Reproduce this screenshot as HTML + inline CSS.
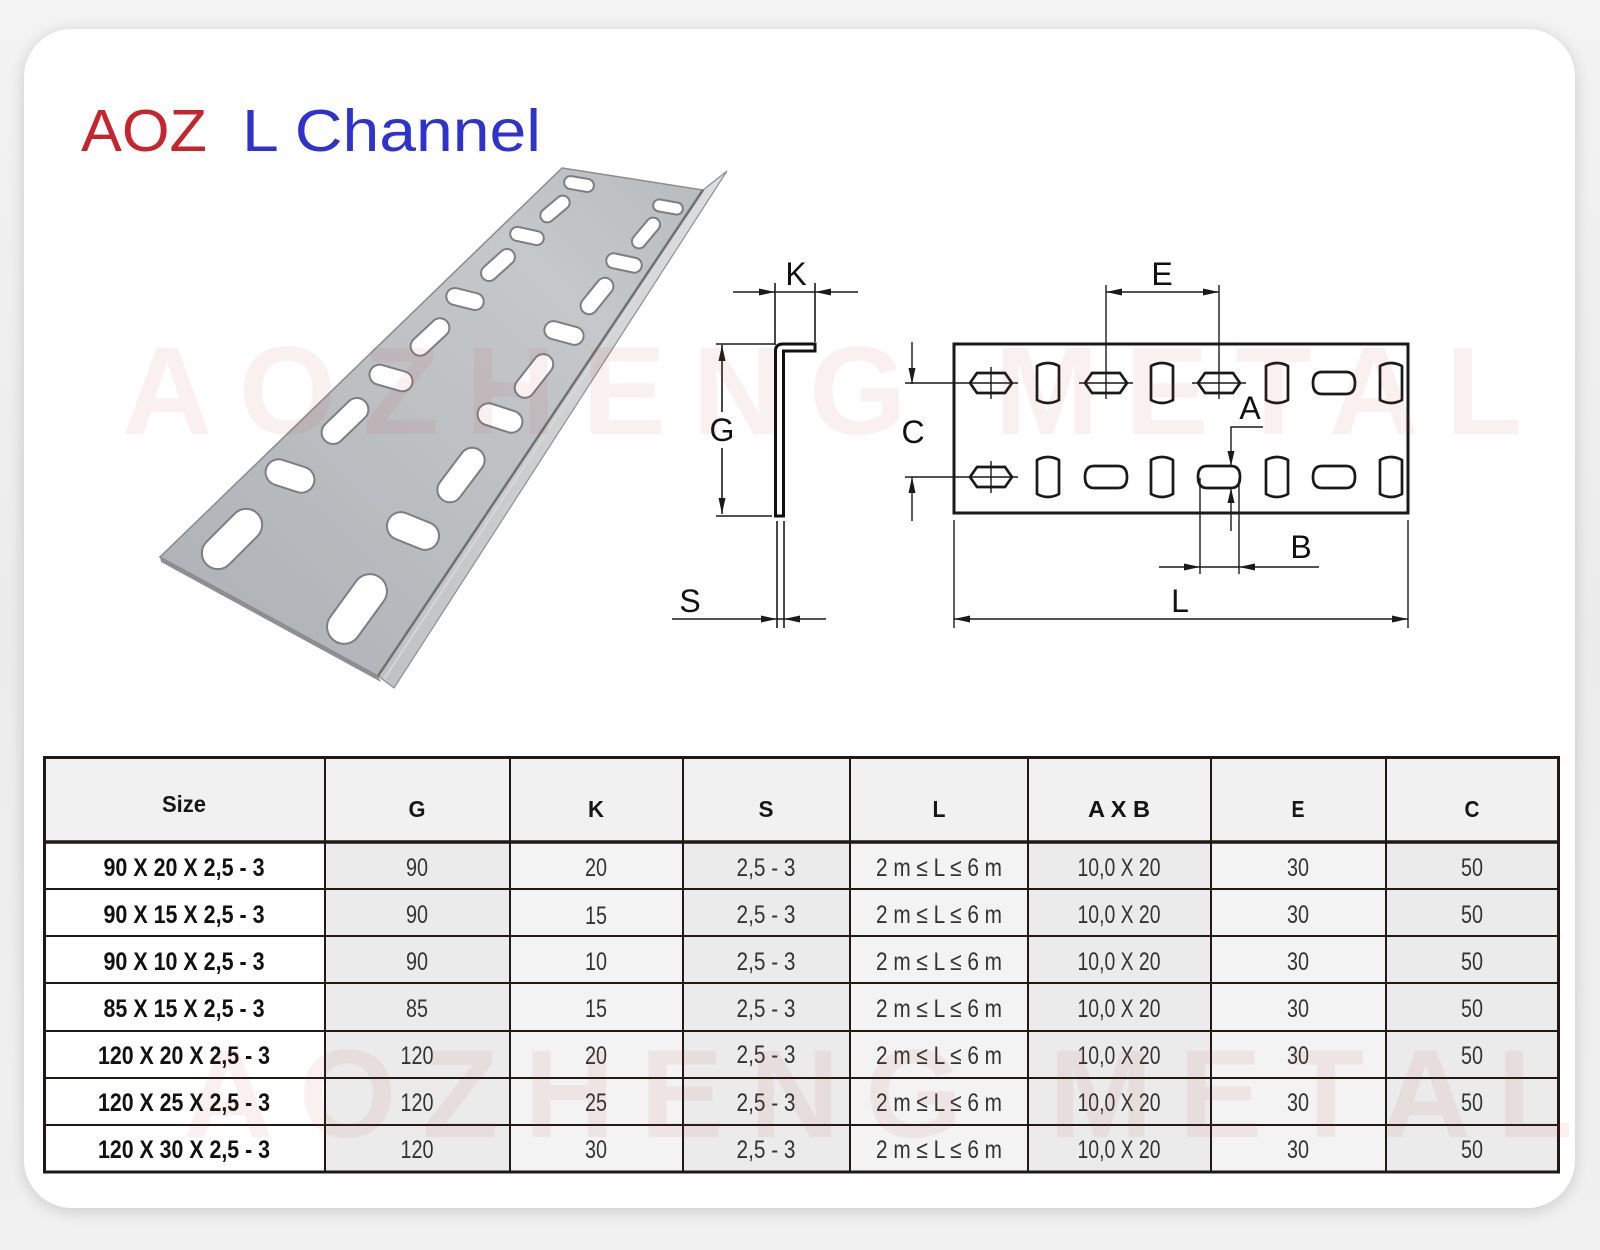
<!DOCTYPE html>
<html>
<head>
<meta charset="utf-8">
<style>
  html,body{margin:0;padding:0;}
  body{width:1600px;height:1250px;position:relative;overflow:hidden;background:#efefef;
       background:linear-gradient(180deg,#f3f3f3 0%,#ececec 50%,#f1f1f1 100%);}
  .card{position:absolute;left:24px;top:29px;width:1551px;height:1179px;border-radius:48px;background:#fff;
        box-shadow:0 3px 16px rgba(0,0,0,0.16);}
  svg{position:absolute;left:0;top:0;}
</style>
</head>
<body>
<div class="card"></div>
<svg width="1600" height="1250" viewBox="0 0 1600 1250" font-family="'Liberation Sans', Arial, sans-serif">
  <defs>
    <linearGradient id="plate" x1="0" y1="1" x2="1" y2="0">
      <stop offset="0" stop-color="#acafb3"/>
      <stop offset="0.45" stop-color="#bcbfc2"/>
      <stop offset="0.75" stop-color="#c5c8cb"/>
      <stop offset="1" stop-color="#b8bbbe"/>
    </linearGradient>
    <linearGradient id="flange" x1="0" y1="0" x2="1" y2="0">
      <stop offset="0" stop-color="#bfc1c3"/>
      <stop offset="1" stop-color="#dcdedf"/>
    </linearGradient>
  </defs>

  <!-- Title -->
  <text x="81" y="151" font-size="59" fill="#c4262e" textLength="126" lengthAdjust="spacingAndGlyphs">AOZ</text>
  <text x="242" y="151" font-size="59" fill="#2f33cc" textLength="299" lengthAdjust="spacingAndGlyphs">L Channel</text>

  <!-- Product photo -->
  <g>
    <polygon points="703,190 727,171 394,688 378,676" fill="url(#flange)" stroke="#8e9093" stroke-width="1.2"/>
    <polygon points="160,557 378,676 381,682 161,562" fill="#8d8f92"/>
    <polygon points="562,168 703,190 378,676 160,557" fill="url(#plate)" stroke="#8a8c8f" stroke-width="1.5"/>
    <line x1="703" y1="190" x2="378" y2="676" stroke="#6e7073" stroke-width="2.5"/>
    <line x1="708" y1="188" x2="384" y2="679" stroke="#d8dadb" stroke-width="1.5"/>
    <g fill="#ffffff" stroke="#7b7e82" stroke-width="2">
      <!-- left row -->
      <rect x="-15" y="-6.5" width="30" height="13" rx="6.5" transform="translate(579,184) rotate(10)"/>
      <rect x="-17" y="-7" width="34" height="14" rx="7" transform="translate(555,209) rotate(-40)"/>
      <rect x="-17" y="-7" width="34" height="14" rx="7" transform="translate(527,236) rotate(12)"/>
      <rect x="-20" y="-8" width="40" height="16" rx="8" transform="translate(498,265) rotate(-42)"/>
      <rect x="-19" y="-8.5" width="38" height="17" rx="8.5" transform="translate(465,299) rotate(14)"/>
      <rect x="-23" y="-9.5" width="46" height="19" rx="9.5" transform="translate(430,337) rotate(-43)"/>
      <rect x="-22" y="-10" width="44" height="20" rx="10" transform="translate(391,378) rotate(16)"/>
      <rect x="-28" y="-11.5" width="56" height="23" rx="11.5" transform="translate(345,421) rotate(-44)"/>
      <rect x="-25" y="-13" width="50" height="26" rx="13" transform="translate(290,476) rotate(18)"/>
      <rect x="-36" y="-16" width="72" height="32" rx="16" transform="translate(232,539) rotate(-45)"/>
      <!-- right row -->
      <rect x="-15" y="-6" width="30" height="12" rx="6" transform="translate(668,207) rotate(10)"/>
      <rect x="-18" y="-7" width="36" height="14" rx="7" transform="translate(646,233) rotate(-50)"/>
      <rect x="-18" y="-7.5" width="36" height="15" rx="7.5" transform="translate(624,263) rotate(12)"/>
      <rect x="-21" y="-8.5" width="42" height="17" rx="8.5" transform="translate(597,296) rotate(-51)"/>
      <rect x="-20" y="-9" width="40" height="18" rx="9" transform="translate(564,333) rotate(15)"/>
      <rect x="-25" y="-10" width="50" height="20" rx="10" transform="translate(534,376) rotate(-52)"/>
      <rect x="-23" y="-11" width="46" height="22" rx="11" transform="translate(500,418) rotate(18)"/>
      <rect x="-31" y="-12.5" width="62" height="25" rx="12.5" transform="translate(461,475) rotate(-53)"/>
      <rect x="-27" y="-14" width="54" height="28" rx="14" transform="translate(413,531) rotate(22)"/>
      <rect x="-39" y="-17" width="78" height="34" rx="17" transform="translate(357,609) rotate(-54)"/>
    </g>
  </g>

  <!-- Drawing 1: L profile -->
  <g stroke="#1a1a1a" stroke-width="1.6" fill="none">
    <line x1="733" y1="292" x2="858" y2="292"/>
    <line x1="775" y1="283" x2="775" y2="345"/>
    <line x1="815" y1="283" x2="815" y2="342"/>
    <line x1="722" y1="345" x2="722" y2="412"/>
    <line x1="722" y1="448" x2="722" y2="514"/>
    <line x1="716" y1="344" x2="775" y2="344"/>
    <line x1="716" y1="516" x2="772" y2="516"/>
    <line x1="777" y1="521" x2="777" y2="628"/>
    <line x1="784" y1="521" x2="784" y2="628"/>
    <line x1="672" y1="619" x2="826" y2="619"/>
  </g>
  <path d="M775.5,516 L775.5,351 Q775.5,344 783,344 L815,344 L815,351 L783.5,351 L783.5,516 Z" fill="#fff" stroke="#111" stroke-width="3"/>
  <g fill="#1a1a1a">
    <polygon points="759,288.5 775,292 759,295.5"/>
    <polygon points="831,288.5 815,292 831,295.5"/>
    <polygon points="718.5,361 722,345 725.5,361"/>
    <polygon points="718.5,498 722,514 725.5,498"/>
    <polygon points="761,615.5 777,619 761,622.5"/>
    <polygon points="800,615.5 784,619 800,622.5"/>
  </g>
  <g font-size="32" fill="#111" text-anchor="middle">
    <text x="796" y="285">K</text>
    <text x="722" y="441">G</text>
    <text x="690" y="612">S</text>
  </g>

  <!-- Drawing 2: plate -->
  <rect x="954" y="344" width="454" height="169" fill="none" stroke="#1a1a1a" stroke-width="3"/>
  <g fill="none" stroke="#1a1a1a" stroke-width="2.7" stroke-linejoin="round">
    <!-- top row -->
    <path d="M977,373 L1005,373 L1012,383 L1005,393 L977,393 L970,383 Z"/>
    <path d="M1037,366 Q1048,360 1059,366 L1059,400 Q1048,406 1037,400 Z"/>
    <path d="M1092,373 L1120,373 L1127,383 L1120,393 L1092,393 L1085,383 Z"/>
    <path d="M1151,366 Q1162,360 1173,366 L1173,400 Q1162,406 1151,400 Z"/>
    <path d="M1205,373 L1233,373 L1240,383 L1233,393 L1205,393 L1198,383 Z"/>
    <path d="M1266,366 Q1277,360 1288,366 L1288,400 Q1277,406 1266,400 Z"/>
    <path d="M1322,372 L1346,372 Q1355,372 1355,383 Q1355,394 1346,394 L1322,394 Q1313,394 1313,383 Q1313,372 1322,372 Z"/>
    <path d="M1380,366 Q1391,360 1402,366 L1402,400 Q1391,406 1380,400 Z"/>
    <!-- bottom row -->
    <path d="M977,467 L1005,467 L1012,477 L1005,487 L977,487 L970,477 Z"/>
    <path d="M1037,460 Q1048,454 1059,460 L1059,494 Q1048,500 1037,494 Z"/>
    <path d="M1094,466 L1118,466 Q1127,466 1127,477 Q1127,488 1118,488 L1094,488 Q1085,488 1085,477 Q1085,466 1094,466 Z"/>
    <path d="M1151,460 Q1162,454 1173,460 L1173,494 Q1162,500 1151,494 Z"/>
    <path d="M1207,466 L1231,466 Q1240,466 1240,477 Q1240,488 1231,488 L1207,488 Q1198,488 1198,477 Q1198,466 1207,466 Z"/>
    <path d="M1266,460 Q1277,454 1288,460 L1288,494 Q1277,500 1266,494 Z"/>
    <path d="M1322,466 L1346,466 Q1355,466 1355,477 Q1355,488 1346,488 L1322,488 Q1313,488 1313,477 Q1313,466 1322,466 Z"/>
    <path d="M1380,460 Q1391,454 1402,460 L1402,494 Q1391,500 1380,494 Z"/>
  </g>
  <g stroke="#1a1a1a" stroke-width="1.4" fill="none">
    <!-- crosshairs -->
    <line x1="905" y1="383" x2="1018" y2="383"/>
    <line x1="991" y1="367" x2="991" y2="399"/>
    <line x1="905" y1="477" x2="1018" y2="477"/>
    <line x1="991" y1="461" x2="991" y2="493"/>
    <line x1="1079" y1="383" x2="1133" y2="383"/>
    <line x1="1192" y1="383" x2="1246" y2="383"/>
    <!-- E -->
    <line x1="1106" y1="285" x2="1106" y2="399"/>
    <line x1="1219" y1="285" x2="1219" y2="399"/>
    <line x1="1106" y1="292" x2="1219" y2="292"/>
    <!-- C -->
    <line x1="912" y1="342" x2="912" y2="384"/>
    <line x1="912" y1="477" x2="912" y2="521"/>
    <!-- A -->
    <polyline points="1263,427 1231,427 1231,466"/>
    <line x1="1231" y1="488" x2="1231" y2="531"/>
    <!-- B -->
    <line x1="1200" y1="478" x2="1200" y2="574"/>
    <line x1="1239" y1="478" x2="1239" y2="574"/>
    <line x1="1159" y1="567" x2="1319" y2="567"/>
    <!-- L -->
    <line x1="954" y1="520" x2="954" y2="628"/>
    <line x1="1408" y1="520" x2="1408" y2="628"/>
    <line x1="954" y1="619" x2="1408" y2="619"/>
  </g>
  <g fill="#1a1a1a">
    <polygon points="1122,288.5 1106,292 1122,295.5"/>
    <polygon points="1203,288.5 1219,292 1203,295.5"/>
    <polygon points="908.5,368 912,384 915.5,368"/>
    <polygon points="908.5,493 912,477 915.5,493"/>
    <polygon points="1227.5,451 1231,466 1234.5,451"/>
    <polygon points="1227.5,503 1231,488 1234.5,503"/>
    <polygon points="1184,563.5 1200,567 1184,570.5"/>
    <polygon points="1255,563.5 1239,567 1255,570.5"/>
    <polygon points="970,615.5 954,619 970,622.5"/>
    <polygon points="1392,615.5 1408,619 1392,622.5"/>
  </g>
  <g font-size="32" fill="#111" text-anchor="middle">
    <text x="1162" y="285">E</text>
    <text x="913" y="443">C</text>
    <text x="1250" y="419">A</text>
    <text x="1301" y="558">B</text>
    <text x="1180" y="612">L</text>
  </g>

  <!-- Table -->
  <rect x="44" y="757" width="1515" height="85" fill="#f1f1f1"/>
  <rect x="44" y="842" width="281" height="330" fill="#ffffff"/>
  <rect x="325" y="842" width="185" height="330" fill="#ebebeb"/>
  <rect x="510" y="842" width="173" height="330" fill="#f3f3f3"/>
  <rect x="683" y="842" width="167" height="330" fill="#ebebeb"/>
  <rect x="850" y="842" width="178" height="330" fill="#f3f3f3"/>
  <rect x="1028" y="842" width="183" height="330" fill="#ebebeb"/>
  <rect x="1211" y="842" width="175" height="330" fill="#f3f3f3"/>
  <rect x="1386" y="842" width="173" height="330" fill="#ebebeb"/>
  <g stroke="#221815" fill="none">
    <g stroke-width="2">
      <line x1="325" y1="757" x2="325" y2="1172"/>
      <line x1="510" y1="757" x2="510" y2="1172"/>
      <line x1="683" y1="757" x2="683" y2="1172"/>
      <line x1="850" y1="757" x2="850" y2="1172"/>
      <line x1="1028" y1="757" x2="1028" y2="1172"/>
      <line x1="1211" y1="757" x2="1211" y2="1172"/>
      <line x1="1386" y1="757" x2="1386" y2="1172"/>
      <line x1="44" y1="889" x2="1559" y2="889"/>
      <line x1="44" y1="936" x2="1559" y2="936"/>
      <line x1="44" y1="983" x2="1559" y2="983"/>
      <line x1="44" y1="1031" x2="1559" y2="1031"/>
      <line x1="44" y1="1078" x2="1559" y2="1078"/>
      <line x1="44" y1="1125" x2="1559" y2="1125"/>
    </g>
    <line x1="44" y1="842" x2="1559" y2="842" stroke-width="3.5"/>
    <rect x="44.5" y="757.5" width="1514" height="414.5" stroke-width="3"/>
  </g>

  <!-- Header text -->
  <g font-size="23" font-weight="bold" fill="#161616" text-anchor="middle">
    <text x="184" y="812" textLength="44" lengthAdjust="spacingAndGlyphs">Size</text>
    <text x="417" y="817" textLength="17" lengthAdjust="spacingAndGlyphs">G</text>
    <text x="596" y="817" textLength="16" lengthAdjust="spacingAndGlyphs">K</text>
    <text x="766" y="817" textLength="15" lengthAdjust="spacingAndGlyphs">S</text>
    <text x="939" y="817" textLength="13" lengthAdjust="spacingAndGlyphs">L</text>
    <text x="1119" y="817" textLength="62" lengthAdjust="spacingAndGlyphs">A X B</text>
    <text x="1298" y="817" textLength="13" lengthAdjust="spacingAndGlyphs">E</text>
    <text x="1472" y="817" textLength="15" lengthAdjust="spacingAndGlyphs">C</text>
  </g>

  <!-- Size column -->
  <g font-size="25" font-weight="bold" fill="#111" text-anchor="middle">
    <text x="184" y="876" textLength="161" lengthAdjust="spacingAndGlyphs">90 X 20 X 2,5 - 3</text>
    <text x="184" y="923" textLength="161" lengthAdjust="spacingAndGlyphs">90 X 15 X 2,5 - 3</text>
    <text x="184" y="970" textLength="161" lengthAdjust="spacingAndGlyphs">90 X 10 X 2,5 - 3</text>
    <text x="184" y="1017" textLength="161" lengthAdjust="spacingAndGlyphs">85 X 15 X 2,5 - 3</text>
    <text x="184" y="1064" textLength="172" lengthAdjust="spacingAndGlyphs">120 X 20 X 2,5 - 3</text>
    <text x="184" y="1111" textLength="172" lengthAdjust="spacingAndGlyphs">120 X 25 X 2,5 - 3</text>
    <text x="184" y="1158" textLength="172" lengthAdjust="spacingAndGlyphs">120 X 30 X 2,5 - 3</text>
  </g>

  <!-- Data -->
  <g font-size="25" fill="#333" text-anchor="middle">
    <text x="417" y="876" textLength="22" lengthAdjust="spacingAndGlyphs">90</text>
    <text x="417" y="923" textLength="22" lengthAdjust="spacingAndGlyphs">90</text>
    <text x="417" y="970" textLength="22" lengthAdjust="spacingAndGlyphs">90</text>
    <text x="417" y="1017" textLength="22" lengthAdjust="spacingAndGlyphs">85</text>
    <text x="417" y="1064" textLength="33" lengthAdjust="spacingAndGlyphs">120</text>
    <text x="417" y="1111" textLength="33" lengthAdjust="spacingAndGlyphs">120</text>
    <text x="417" y="1158" textLength="33" lengthAdjust="spacingAndGlyphs">120</text>
    <text x="596" y="876" textLength="22" lengthAdjust="spacingAndGlyphs">20</text>
    <text x="596" y="924" textLength="22" lengthAdjust="spacingAndGlyphs">15</text>
    <text x="596" y="970" textLength="22" lengthAdjust="spacingAndGlyphs">10</text>
    <text x="596" y="1017" textLength="22" lengthAdjust="spacingAndGlyphs">15</text>
    <text x="596" y="1064" textLength="22" lengthAdjust="spacingAndGlyphs">20</text>
    <text x="596" y="1111" textLength="22" lengthAdjust="spacingAndGlyphs">25</text>
    <text x="596" y="1158" textLength="22" lengthAdjust="spacingAndGlyphs">30</text>
    <text x="766" y="876" textLength="59" lengthAdjust="spacingAndGlyphs">2,5 - 3</text>
    <text x="766" y="923" textLength="59" lengthAdjust="spacingAndGlyphs">2,5 - 3</text>
    <text x="766" y="970" textLength="59" lengthAdjust="spacingAndGlyphs">2,5 - 3</text>
    <text x="766" y="1017" textLength="59" lengthAdjust="spacingAndGlyphs">2,5 - 3</text>
    <text x="766" y="1063" textLength="59" lengthAdjust="spacingAndGlyphs">2,5 - 3</text>
    <text x="766" y="1111" textLength="59" lengthAdjust="spacingAndGlyphs">2,5 - 3</text>
    <text x="766" y="1158" textLength="59" lengthAdjust="spacingAndGlyphs">2,5 - 3</text>
    <text x="939" y="876" textLength="126" lengthAdjust="spacingAndGlyphs">2 m ≤ L ≤ 6 m</text>
    <text x="939" y="923" textLength="126" lengthAdjust="spacingAndGlyphs">2 m ≤ L ≤ 6 m</text>
    <text x="939" y="970" textLength="126" lengthAdjust="spacingAndGlyphs">2 m ≤ L ≤ 6 m</text>
    <text x="939" y="1017" textLength="126" lengthAdjust="spacingAndGlyphs">2 m ≤ L ≤ 6 m</text>
    <text x="939" y="1064" textLength="126" lengthAdjust="spacingAndGlyphs">2 m ≤ L ≤ 6 m</text>
    <text x="939" y="1111" textLength="126" lengthAdjust="spacingAndGlyphs">2 m ≤ L ≤ 6 m</text>
    <text x="939" y="1158" textLength="126" lengthAdjust="spacingAndGlyphs">2 m ≤ L ≤ 6 m</text>
    <text x="1119" y="876" textLength="83" lengthAdjust="spacingAndGlyphs">10,0 X 20</text>
    <text x="1119" y="923" textLength="83" lengthAdjust="spacingAndGlyphs">10,0 X 20</text>
    <text x="1119" y="970" textLength="83" lengthAdjust="spacingAndGlyphs">10,0 X 20</text>
    <text x="1119" y="1017" textLength="83" lengthAdjust="spacingAndGlyphs">10,0 X 20</text>
    <text x="1119" y="1064" textLength="83" lengthAdjust="spacingAndGlyphs">10,0 X 20</text>
    <text x="1119" y="1111" textLength="83" lengthAdjust="spacingAndGlyphs">10,0 X 20</text>
    <text x="1119" y="1158" textLength="83" lengthAdjust="spacingAndGlyphs">10,0 X 20</text>
    <text x="1298" y="876" textLength="22" lengthAdjust="spacingAndGlyphs">30</text>
    <text x="1298" y="923" textLength="22" lengthAdjust="spacingAndGlyphs">30</text>
    <text x="1298" y="970" textLength="22" lengthAdjust="spacingAndGlyphs">30</text>
    <text x="1298" y="1017" textLength="22" lengthAdjust="spacingAndGlyphs">30</text>
    <text x="1298" y="1064" textLength="22" lengthAdjust="spacingAndGlyphs">30</text>
    <text x="1298" y="1111" textLength="22" lengthAdjust="spacingAndGlyphs">30</text>
    <text x="1298" y="1158" textLength="22" lengthAdjust="spacingAndGlyphs">30</text>
    <text x="1472" y="876" textLength="22" lengthAdjust="spacingAndGlyphs">50</text>
    <text x="1472" y="923" textLength="22" lengthAdjust="spacingAndGlyphs">50</text>
    <text x="1472" y="970" textLength="22" lengthAdjust="spacingAndGlyphs">50</text>
    <text x="1472" y="1017" textLength="22" lengthAdjust="spacingAndGlyphs">50</text>
    <text x="1472" y="1064" textLength="22" lengthAdjust="spacingAndGlyphs">50</text>
    <text x="1472" y="1111" textLength="22" lengthAdjust="spacingAndGlyphs">50</text>
    <text x="1472" y="1158" textLength="22" lengthAdjust="spacingAndGlyphs">50</text>
  </g>

  <!-- Watermarks -->
  <g font-size="125" font-weight="bold" fill="#c83232" fill-opacity="0.075">
    <text x="122" y="434" textLength="1400" lengthAdjust="spacing">AOZHENG METAL</text>
    <text x="183" y="1137" textLength="1390" lengthAdjust="spacing">AOZHENG METAL</text>
  </g>
</svg>
</body>
</html>
